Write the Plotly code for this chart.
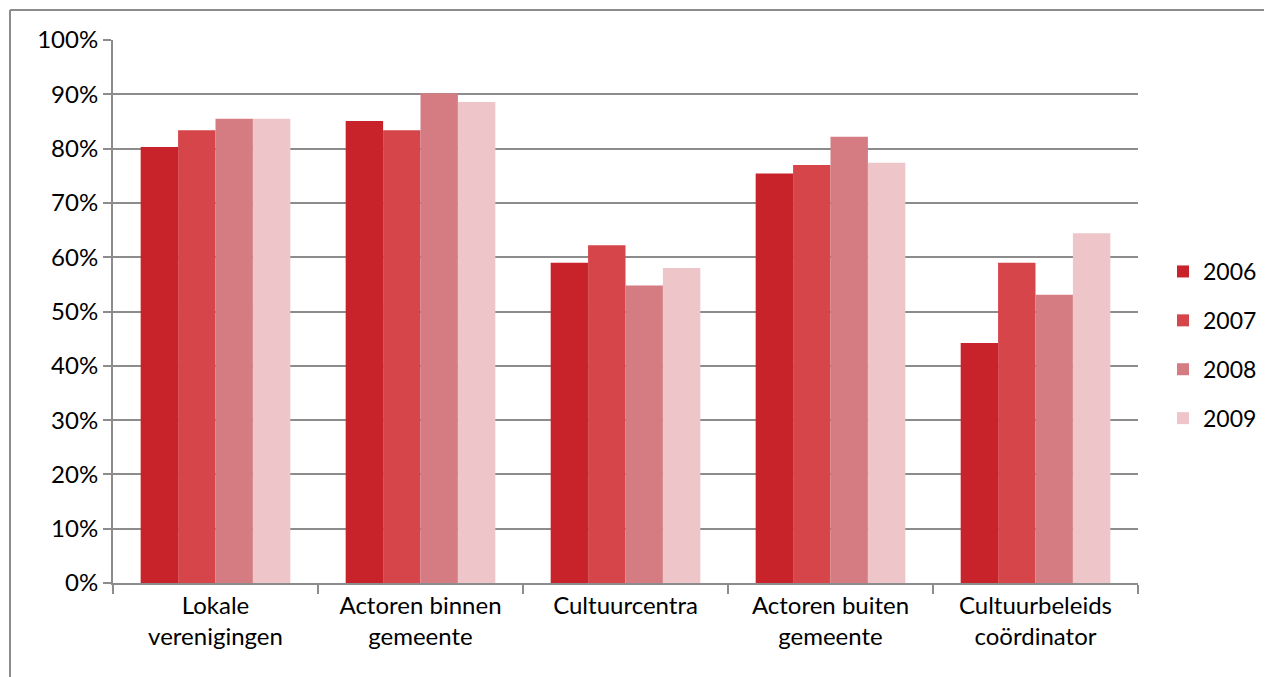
import plotly.graph_objects as go

categories = ["Lokale<br>verenigingen", "Actoren binnen<br>gemeente", "Cultuurcentra",
              "Actoren buiten<br>gemeente", "Cultuurbeleids<br>coördinator"]
years = ["2006", "2007", "2008", "2009"]
v2006 = [0.803, 0.851, 0.590, 0.754, 0.442]
v2007 = [0.834, 0.834, 0.622, 0.770, 0.590]
v2008 = [0.855, 0.902, 0.548, 0.822, 0.531]
v2009 = [0.855, 0.886, 0.580, 0.774, 0.644]
colors = ["#C8222A", "#D6454A", "#D47C81", "#EEC6C9"]
tick_vals = [0, 0.1, 0.2, 0.3, 0.4, 0.5, 0.6, 0.7, 0.8, 0.9, 1.0]
tick_text = ["0%", "10%", "20%", "30%", "40%", "50%", "60%", "70%", "80%", "90%", "100%"]

series = [v2006, v2007, v2008, v2009]

FONT = "Lato"
fig = go.Figure()
for i, (yr, vals) in enumerate(zip(years, series)):
    fig.add_trace(go.Bar(
        x=categories, y=vals, name=yr,
        marker=dict(color=colors[i], line=dict(width=0)),
        legendgroup=yr,
    ))

# page body has an 8px margin; figure sized to fit the remaining window
W, H = 1264, 669
L, R, T, B = 105, 134, 32, 94
pw, ph = W - L - R, H - T - B

def px_x(p):
    return (p - L) / pw

def px_y(p):
    return (H - B - p) / ph

fig.update_layout(
    width=W, height=H,
    margin=dict(l=L, r=R, t=T, b=B, autoexpand=False),
    paper_bgcolor="white", plot_bgcolor="white",
    barmode="group", bargap=0.27, bargroupgap=0,
    font=dict(family=FONT, size=23, color="#000000"),
    showlegend=True,
    legend=dict(xref="container", yref="container",
                x=1155 / W, xanchor="left", y=(H - 337) / H, yanchor="middle",
                font=dict(family=FONT, size=23, color="#000000"),
                tracegroupgap=16, bgcolor="rgba(0,0,0,0)"),
    xaxis=dict(
        showline=True, linecolor="#8c8c8c", linewidth=2,
        ticks="outside", ticklen=9, tickcolor="#8c8c8c", tickwidth=2,
        tickson="boundaries", showgrid=False,
        tickfont=dict(family=FONT, size=24, color="#000000"),
    ),
    yaxis=dict(
        range=[0, 1.0], tickvals=tick_vals, ticktext=tick_text,
        showline=True, linecolor="#8c8c8c", linewidth=2,
        ticks="outside", ticklen=8, tickcolor="#8c8c8c", tickwidth=2,
        showgrid=True, gridcolor="#8c8c8c", gridwidth=2,
        zeroline=False,
        tickfont=dict(family=FONT, size=24, color="#000000"),
    ),
    shapes=[
        dict(type="line", xref="paper", yref="paper",
             x0=px_x(2), x1=px_x(1280), y0=px_y(2), y1=px_y(2),
             line=dict(color="#8c8c8c", width=2)),
        dict(type="line", xref="paper", yref="paper",
             x0=px_x(2), x1=px_x(2), y0=px_y(2), y1=px_y(690),
             line=dict(color="#8c8c8c", width=2)),
    ],
)

fig.write_html("out.html")
